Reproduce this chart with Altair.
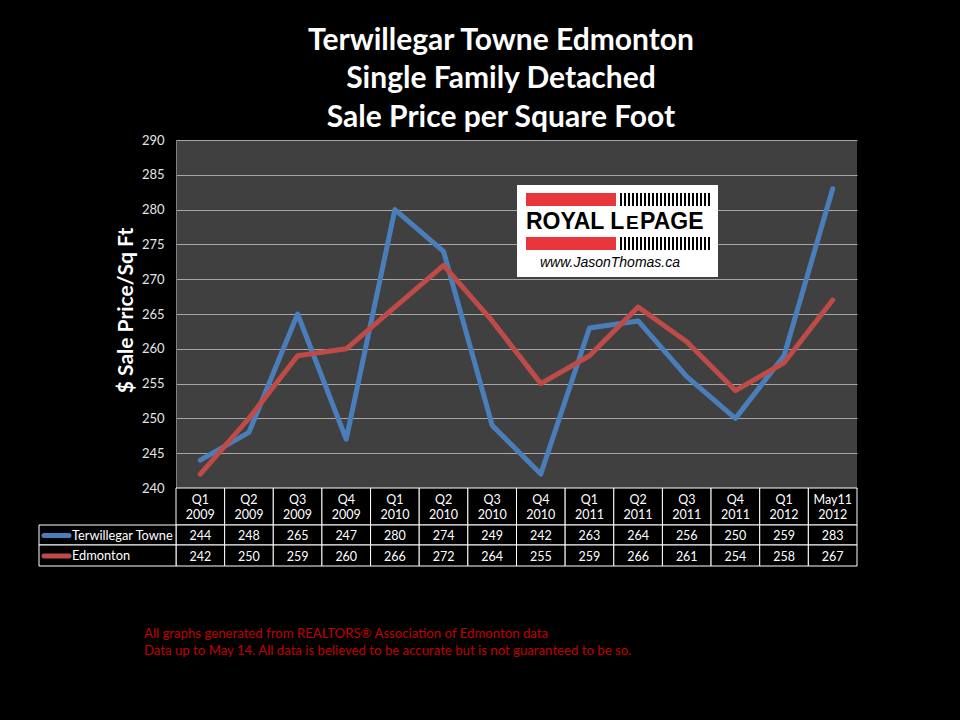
import altair as alt
import pandas as pd

quarters = ["Q1 2009", "Q2 2009", "Q3 2009", "Q4 2009", "Q1 2010", "Q2 2010", "Q3 2010",
            "Q4 2010", "Q1 2011", "Q2 2011", "Q3 2011", "Q4 2011", "Q1 2012", "May11 2012"]
q_top = ["Q1", "Q2", "Q3", "Q4", "Q1", "Q2", "Q3", "Q4", "Q1", "Q2", "Q3", "Q4", "Q1", "May11"]
q_bottom = ["2009", "2009", "2009", "2009", "2010", "2010", "2010", "2010",
            "2011", "2011", "2011", "2011", "2012", "2012"]
terwillegar = [244, 248, 265, 247, 280, 274, 249, 242, 263, 264, 256, 250, 259, 283]
edmonton = [242, 250, 259, 260, 266, 272, 264, 255, 259, 266, 261, 254, 258, 267]
series_names = ["Terwillegar Towne", "Edmonton"]
series_colors = ["#4a7ebb", "#be4b48"]
y_ticks = [240, 245, 250, 255, 260, 265, 270, 275, 280, 285, 290]
titles = ["Terwillegar Towne Edmonton", "Single Family Detached", "Sale Price per Square Foot"]
footer = ["All graphs generated from REALTORS\u00ae Association of Edmonton data",
          "Data up to May 14.  All data is believed to be accurate but is not guaranteed to be so."]

FONT = "Lato"
W, H = 681, 348

long_df = pd.DataFrame({
    "quarter": quarters * 2,
    "series": [series_names[0]] * len(quarters) + [series_names[1]] * len(quarters),
    "value": terwillegar + edmonton,
})
wide_df = pd.DataFrame({"quarter": quarters, "top": q_top, "bottom": q_bottom,
                        "t": terwillegar, "e": edmonton})
one = pd.DataFrame({"k": [0]})

xscale = alt.Scale(type="band", paddingInner=0, paddingOuter=0)


def xc():
    return alt.X("quarter:N", sort=quarters, scale=xscale, axis=None, bandPosition=0.5)


def xb():
    return alt.X("quarter:N", sort=quarters, scale=xscale, axis=None)


lines = alt.Chart(long_df).mark_line(strokeWidth=5, strokeJoin="round", strokeCap="round").encode(
    x=xc(),
    y=alt.Y("value:Q",
            scale=alt.Scale(domain=[240, 290], nice=False, zero=False),
            axis=alt.Axis(values=y_ticks, title="$ Sale Price/Sq Ft", ticks=False,
                          labelPadding=12, labelColor="#e6e6e6", labelFont=FONT, labelFontSize=13,
                          gridColor="#a6a6a6", gridWidth=1, domainColor="#7f7f7f",
                          titleColor="white", titleFont=FONT, titleFontSize=21, titleFontWeight="bold",
                          titleAngle=270, titleX=-50, titleY=H / 2 - 4, titleAlign="center",
                          titleBaseline="middle")),
    color=alt.Color("series:N", scale=alt.Scale(domain=series_names, range=series_colors), legend=None),
    detail="series:N",
)

# table cells
header_cells = alt.Chart(wide_df).mark_rect(fill="black", stroke="white", strokeWidth=1).encode(
    x=xb(), y=alt.value(H), y2=alt.value(H + 37))
row1_cells = alt.Chart(wide_df).mark_rect(fill="black", stroke="white", strokeWidth=1).encode(
    x=xb(), y=alt.value(H + 37), y2=alt.value(H + 57))
row2_cells = alt.Chart(wide_df).mark_rect(fill="black", stroke="white", strokeWidth=1).encode(
    x=xb(), y=alt.value(H + 57), y2=alt.value(H + 78))
label_cells = alt.Chart(pd.DataFrame({"s": series_names, "y0": [H + 37, H + 57], "y1": [H + 57, H + 78]})).mark_rect(
    fill="black", stroke="white", strokeWidth=1).encode(
    x=alt.value(-137), x2=alt.value(0), y=alt.Y("y0:Q", scale=None), y2="y1:Q")

txt = dict(font=FONT, fontSize=12.5, color="white", baseline="middle")
head1 = alt.Chart(wide_df).mark_text(**txt).encode(x=xc(), y=alt.value(H + 11.5), text="top:N")
head2 = alt.Chart(wide_df).mark_text(**txt).encode(x=xc(), y=alt.value(H + 27), text="bottom:N")
vals1 = alt.Chart(wide_df).mark_text(**txt).encode(x=xc(), y=alt.value(H + 47.5), text="t:Q")
vals2 = alt.Chart(wide_df).mark_text(**txt).encode(x=xc(), y=alt.value(H + 68.5), text="e:Q")

leg_df = pd.DataFrame({"s": series_names, "c": series_colors, "ym": [H + 47.5, H + 68]})
leg_sw = alt.Chart(leg_df).mark_rule(strokeWidth=5, strokeCap="round").encode(
    x=alt.value(-132), x2=alt.value(-107), y=alt.Y("ym:Q", scale=None),
    color=alt.Color("c:N", scale=None))
leg_tx = alt.Chart(leg_df).mark_text(font=FONT, fontSize=12.8, color="white", align="left",
                                     baseline="middle").encode(
    x=alt.value(-104), y=alt.Y("ym:Q", scale=None), text="s:N")

# titles
title_df = pd.DataFrame({"t": titles, "yy": [-90, -52, -13]})
title_layer = alt.Chart(title_df).mark_text(font=FONT, fontSize=30, fontWeight="bold", color="white",
                                            align="center", baseline="alphabetic").encode(
    x=alt.value(325), y=alt.Y("yy:Q", scale=None), text="t:N")

foot_df = pd.DataFrame({"t": footer, "yy": [498, 515]})
foot_layer = alt.Chart(foot_df).mark_text(font=FONT, fontSize=13.2, color="#c00000",
                                          align="left", baseline="alphabetic").encode(
    x=alt.value(-32), y=alt.Y("yy:Q", scale=None), text="t:N")

# logo
logo_bg = alt.Chart(one).mark_rect(fill="white").encode(
    x=alt.value(341), x2=alt.value(542), y=alt.value(45), y2=alt.value(137))
red_df = pd.DataFrame({"y0": [53, 97], "y1": [66, 110]})
logo_red = alt.Chart(red_df).mark_rect(fill="#e8363c").encode(
    x=alt.value(350), x2=alt.value(440), y=alt.Y("y0:Q", scale=None), y2="y1:Q")
bar_df = pd.DataFrame({"ym": [59.5, 103.5]})
logo_bars = alt.Chart(bar_df).mark_rule(color="black", strokeWidth=13, strokeDash=[2, 2]).encode(
    x=alt.value(444), x2=alt.value(534), y=alt.Y("ym:Q", scale=None))
logo_t1 = alt.Chart(one).mark_text(font="Liberation Sans", fontSize=23, fontWeight="bold", color="black",
                                   align="left", baseline="alphabetic", text="ROYAL L").encode(
    x=alt.value(350), y=alt.value(89))
logo_t2 = alt.Chart(one).mark_text(font="Liberation Sans", fontSize=19, fontWeight="bold", color="black",
                                   align="left", baseline="alphabetic", text="E").encode(
    x=alt.value(450), y=alt.value(89))
logo_t3 = alt.Chart(one).mark_text(font="Liberation Sans", fontSize=23, fontWeight="bold", color="black",
                                   align="left", baseline="alphabetic", text="PAGE").encode(
    x=alt.value(464), y=alt.value(89))
logo_www = alt.Chart(one).mark_text(font="Liberation Sans", fontSize=14, fontStyle="italic", color="black",
                                    align="center", baseline="alphabetic", text="www.JasonThomas.ca").encode(
    x=alt.value(434), y=alt.value(127))

chart = alt.layer(
    lines, header_cells, row1_cells, row2_cells, label_cells,
    head1, head2, vals1, vals2, leg_sw, leg_tx,
    title_layer, foot_layer,
    logo_bg, logo_red, logo_bars, logo_t1, logo_t2, logo_t3, logo_www,
).properties(
    width=W, height=H,
    autosize=alt.AutoSizeParams(type="none"),
    padding={"left": 176, "top": 140, "right": 960 - 176 - W, "bottom": 720 - 140 - H},
    background="black",
).configure_view(fill="#404040", stroke=None)

chart.save("out.html", embed_options={"renderer": "svg", "actions": False})
